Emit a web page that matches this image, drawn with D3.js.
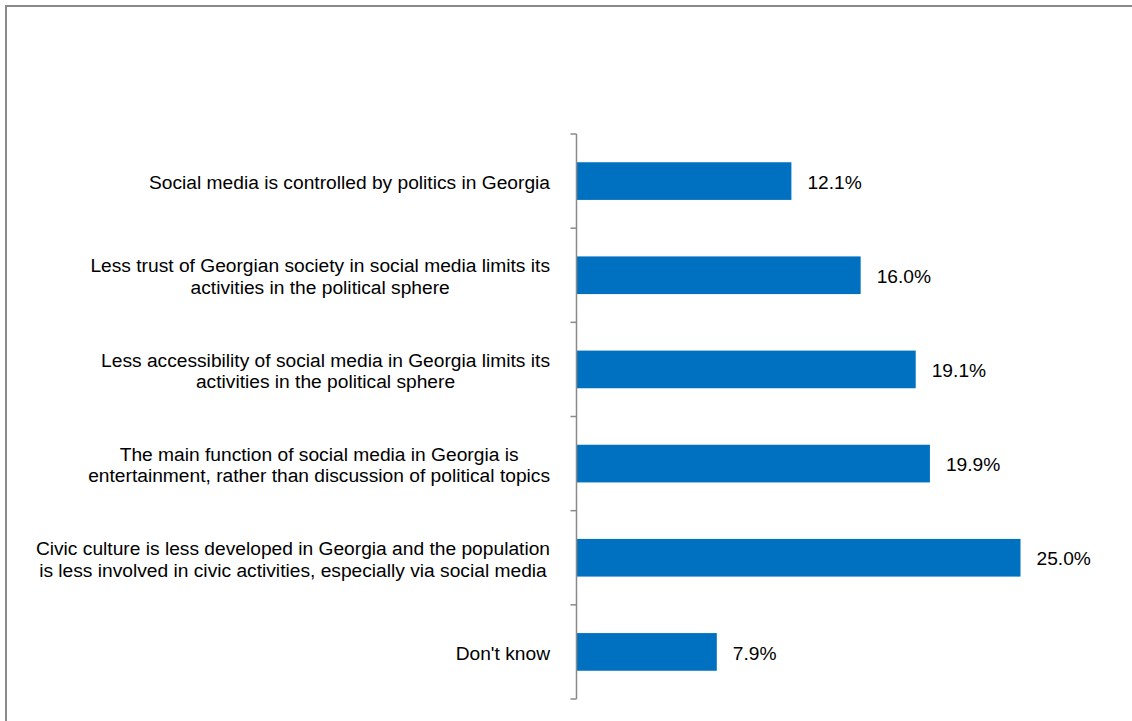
<!DOCTYPE html>
<html>
<head>
<meta charset="utf-8">
<script src="https://cdn.jsdelivr.net/npm/d3@7"></script>
<style>
  html, body { margin: 0; padding: 0; background: #fff; }
  svg { display: block; }
  text { font-family: "Liberation Sans", Arial, sans-serif; fill: #000; }
</style>
</head>
<body>
<svg id="chart" width="1132" height="721"></svg>
<script>
// Reasons why social media plays a limited role in Georgian politics (% of respondents)
const categories = [
  ["Social media is controlled by politics in Georgia"],
  ["Less trust of Georgian society in social media limits its", "activities in the political sphere"],
  ["Less accessibility of social media in Georgia limits its", "activities in the political sphere"],
  ["The main function of social media in Georgia is", "entertainment, rather than discussion of political topics"],
  ["Civic culture is less developed in Georgia and the population", "is less involved in civic activities, especially via social media"],
  ["Don't know"]
];
const values = [12.1, 16.0, 19.1, 19.9, 25.0, 7.9];
const keys = categories.map((c, i) => "c" + i);

const svg = d3.select("#chart");

// Outer frame: only top and left edges fall inside the page
svg.append("path")
  .attr("d", "M6,721 L6,6 L1132,6")
  .attr("fill", "none")
  .attr("stroke", "#8a8a8a")
  .attr("stroke-width", 2);

const axisX = 576.5;
const y = d3.scaleBand().domain(keys).range([134, 699]).paddingInner(0.6).paddingOuter(0.3);
const x = d3.scaleLinear().domain([0, 25]).range([axisX, axisX + 444]);

// Bars
svg.append("g").selectAll("rect")
  .data(values)
  .join("rect")
  .attr("x", x(0) + 0.5)
  .attr("y", (d, i) => y(keys[i]))
  .attr("width", d => x(d) - x(0) - 0.5)
  .attr("height", y.bandwidth())
  .attr("fill", "#0070C0");

// Category axis with tick marks between the bands
const yBoundaries = d3.scaleLinear().domain([0, keys.length]).range([134, 699]);
const axisG = svg.append("g");
axisG.append("line")
  .attr("x1", axisX).attr("x2", axisX)
  .attr("y1", yBoundaries(0)).attr("y2", yBoundaries(keys.length))
  .attr("stroke", "#8a8a8a").attr("stroke-width", 1.5);
axisG.selectAll("line.tick")
  .data(d3.range(keys.length + 1))
  .join("line")
  .attr("class", "tick")
  .attr("x1", axisX - 6).attr("x2", axisX)
  .attr("y1", d => yBoundaries(d)).attr("y2", d => yBoundaries(d))
  .attr("stroke", "#8a8a8a").attr("stroke-width", 1.5);

// Category labels: lines centred on each other, block right-aligned
const labelRight = 550;
const lineH = 21.7;
const fontSize = 19.2;
categories.forEach((lines, i) => {
  const cy = y(keys[i]) + y.bandwidth() / 2;
  const label = svg.append("text")
    .attr("font-size", fontSize)
    .attr("text-anchor", "middle");
  const spans = lines.map((t, j) =>
    label.append("tspan")
      .attr("y", cy + (j - (lines.length - 1) / 2) * lineH)
      .attr("dy", "0.42em")
      .text(t));
  const maxW = d3.max(spans, s => s.node().getComputedTextLength());
  spans.forEach(s => s.attr("x", labelRight - maxW / 2));
});

// Value labels
svg.append("g").selectAll("text")
  .data(values)
  .join("text")
  .attr("x", d => x(d) + 16)
  .attr("y", (d, i) => y(keys[i]) + y.bandwidth() / 2)
  .attr("dy", "0.4em")
  .attr("font-size", fontSize)
  .text(d => d.toFixed(1) + "%");
</script>
</body>
</html>
